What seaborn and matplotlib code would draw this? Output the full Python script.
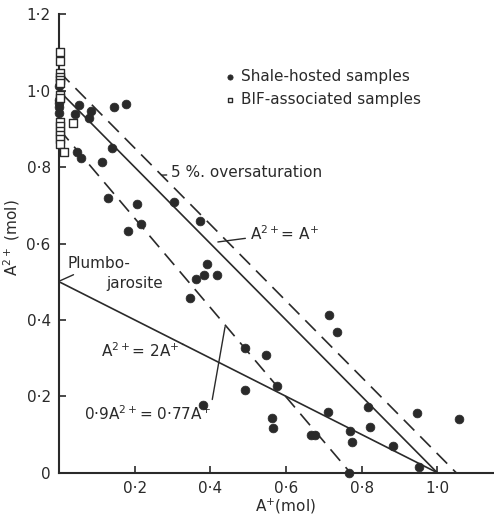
import matplotlib
matplotlib.use('Agg')
import matplotlib.pyplot as plt
import seaborn as sns
import pandas as pd

# shale-hosted samples (filled circles)
SHALE_X = [0.0, 0.0, 0.0, 0.0, 0.0,
           0.053, 0.043, 0.084, 0.080, 0.145, 0.177, 0.139, 0.048, 0.059,
           0.113, 0.130, 0.205, 0.183, 0.216, 0.304, 0.373,
           0.392, 0.383, 0.417, 0.363, 0.347, 0.491, 0.546, 0.575, 0.491,
           0.381, 0.564, 0.567,
           0.714, 0.735, 0.710, 0.817, 0.823, 0.769, 0.774, 0.665, 0.678,
           0.884, 0.946, 1.057, 0.951, 0.767]
SHALE_Y = [1.012, 0.976, 0.957, 0.941, 0.968,
           0.962, 0.939, 0.947, 0.928, 0.958, 0.965, 0.849, 0.840, 0.823,
           0.813, 0.720, 0.703, 0.634, 0.651, 0.708, 0.659,
           0.546, 0.518, 0.518, 0.507, 0.457, 0.326, 0.307, 0.228, 0.217,
           0.178, 0.144, 0.116,
           0.414, 0.368, 0.158, 0.172, 0.119, 0.108, 0.080, 0.098, 0.098,
           0.071, 0.155, 0.140, 0.016, 0.0]

# BIF-associated samples (open squares)
BIF_X = [0.003] * 14 + [0.038, 0.014]
BIF_Y = [1.101, 1.079, 1.047, 1.037, 1.028, 1.019, 0.989, 0.980,
         0.919, 0.908, 0.895, 0.884, 0.873, 0.860, 0.915, 0.840]

# reference lines (end points)
ONE_TO_ONE_X = [0.0, 1.0]
ONE_TO_ONE_Y = [1.0, 0.0]
OVERSAT_X = [0.0, 1.05]
OVERSAT_Y = [1.05, 0.0]
LOWER_X = [0.0, 0.77]
LOWER_Y = [0.9, 0.0]
PLUMBO_X = [0.0, 1.0]
PLUMBO_Y = [0.5, 0.0]

X_TICKS = [0.2, 0.4, 0.6, 0.8, 1.0]
X_TICK_LABELS = ['0·2', '0·4', '0·6', '0·8', '1·0']
Y_TICKS = [0, 0.2, 0.4, 0.6, 0.8, 1.0, 1.2]
Y_TICK_LABELS = ['0', '0·2', '0·4', '0·6', '0·8', '1·0', '1·2']

INK = '#2a2a2a'
DASH = [9, 5]

sns.set_theme(style='ticks')
plt.rcParams['font.family'] = ['DejaVu Sans']

fig = plt.figure(figsize=(4.94, 5.15), dpi=100)
ax = fig.add_axes([59 / 494, (515 - 472.7) / 515, 435 / 494, 458.4 / 515])

shale = pd.DataFrame({'x': SHALE_X, 'y': SHALE_Y})
bif = pd.DataFrame({'x': BIF_X, 'y': BIF_Y})

sns.lineplot(x=ONE_TO_ONE_X, y=ONE_TO_ONE_Y, color=INK, lw=1.2, ax=ax)
sns.lineplot(x=PLUMBO_X, y=PLUMBO_Y, color=INK, lw=1.2, ax=ax)
sns.lineplot(x=OVERSAT_X, y=OVERSAT_Y, color=INK, lw=1.2, ax=ax)
ax.lines[-1].set_dashes(DASH)
sns.lineplot(x=LOWER_X, y=LOWER_Y, color=INK, lw=1.2, ax=ax)
ax.lines[-1].set_dashes(DASH)

sns.scatterplot(data=shale, x='x', y='y', color=INK, s=40, edgecolor=INK,
                marker='o', ax=ax, clip_on=False, zorder=3,
                label='Shale-hosted samples')
sns.scatterplot(data=bif, x='x', y='y', facecolor='white', edgecolor=INK,
                s=28, marker='s', linewidth=1.0, ax=ax, clip_on=False,
                zorder=3, label='BIF-associated samples')

ax.set_xlim(0, 1.15)
ax.set_ylim(0, 1.2)
ax.set_xticks(X_TICKS)
ax.set_xticklabels(X_TICK_LABELS)
ax.set_yticks(Y_TICKS)
ax.set_yticklabels(Y_TICK_LABELS)
ax.tick_params(direction='in', length=5, width=1.2, colors=INK,
               labelsize=11, pad=6)
for side in ['top', 'right']:
    ax.spines[side].set_visible(False)
for side in ['left', 'bottom']:
    ax.spines[side].set_linewidth(1.5)
    ax.spines[side].set_color(INK)

ax.set_xlabel('A$^{+}$(mol)', fontsize=11, color=INK)
ax.set_ylabel('A$^{2+}$ (mol)', fontsize=11, color=INK)
ax.xaxis.set_label_coords(0.52, -0.052)
ax.yaxis.set_label_coords(-0.085, 0.512)

leg = ax.legend(loc='upper left', bbox_to_anchor=(0.366, 0.895),
                frameon=False, fontsize=11, handletextpad=0.3,
                handlelength=0.8, labelspacing=0.55, markerscale=0.6,
                borderaxespad=0)
for t in leg.get_texts():
    t.set_color(INK)

# annotations with leader lines
kw = dict(arrowstyle='-', color=INK, lw=1.0, shrinkA=1, shrinkB=0)
ax.annotate('5 %. oversaturation', xy=(0.271, 0.779), xytext=(0.297, 0.786),
            fontsize=11, color=INK, va='center', arrowprops=kw)
ax.annotate('A$^{2+}$= A$^{+}$', xy=(0.420, 0.604), xytext=(0.505, 0.627),
            fontsize=11, color=INK, va='center', arrowprops=kw)
ax.annotate('Plumbo-', xy=(0.004, 0.503), xytext=(0.022, 0.548),
            fontsize=11, color=INK, va='center', arrowprops=kw)
ax.text(0.124, 0.496, 'jarosite', fontsize=11, color=INK, va='center')
ax.annotate('A$^{2+}$= 2A$^{+}$', xy=(0.328, 0.336), xytext=(0.11, 0.32),
            fontsize=11, color=INK, va='center', arrowprops=kw)
ax.annotate('0·9A$^{2+}$= 0·77A$^{+}$', xy=(0.439, 0.382),
            xytext=(0.065, 0.155), fontsize=11, color=INK, va='center',
            arrowprops=dict(relpos=(1.0, 0.7), **kw))

fig.savefig('out.png', dpi=100)
